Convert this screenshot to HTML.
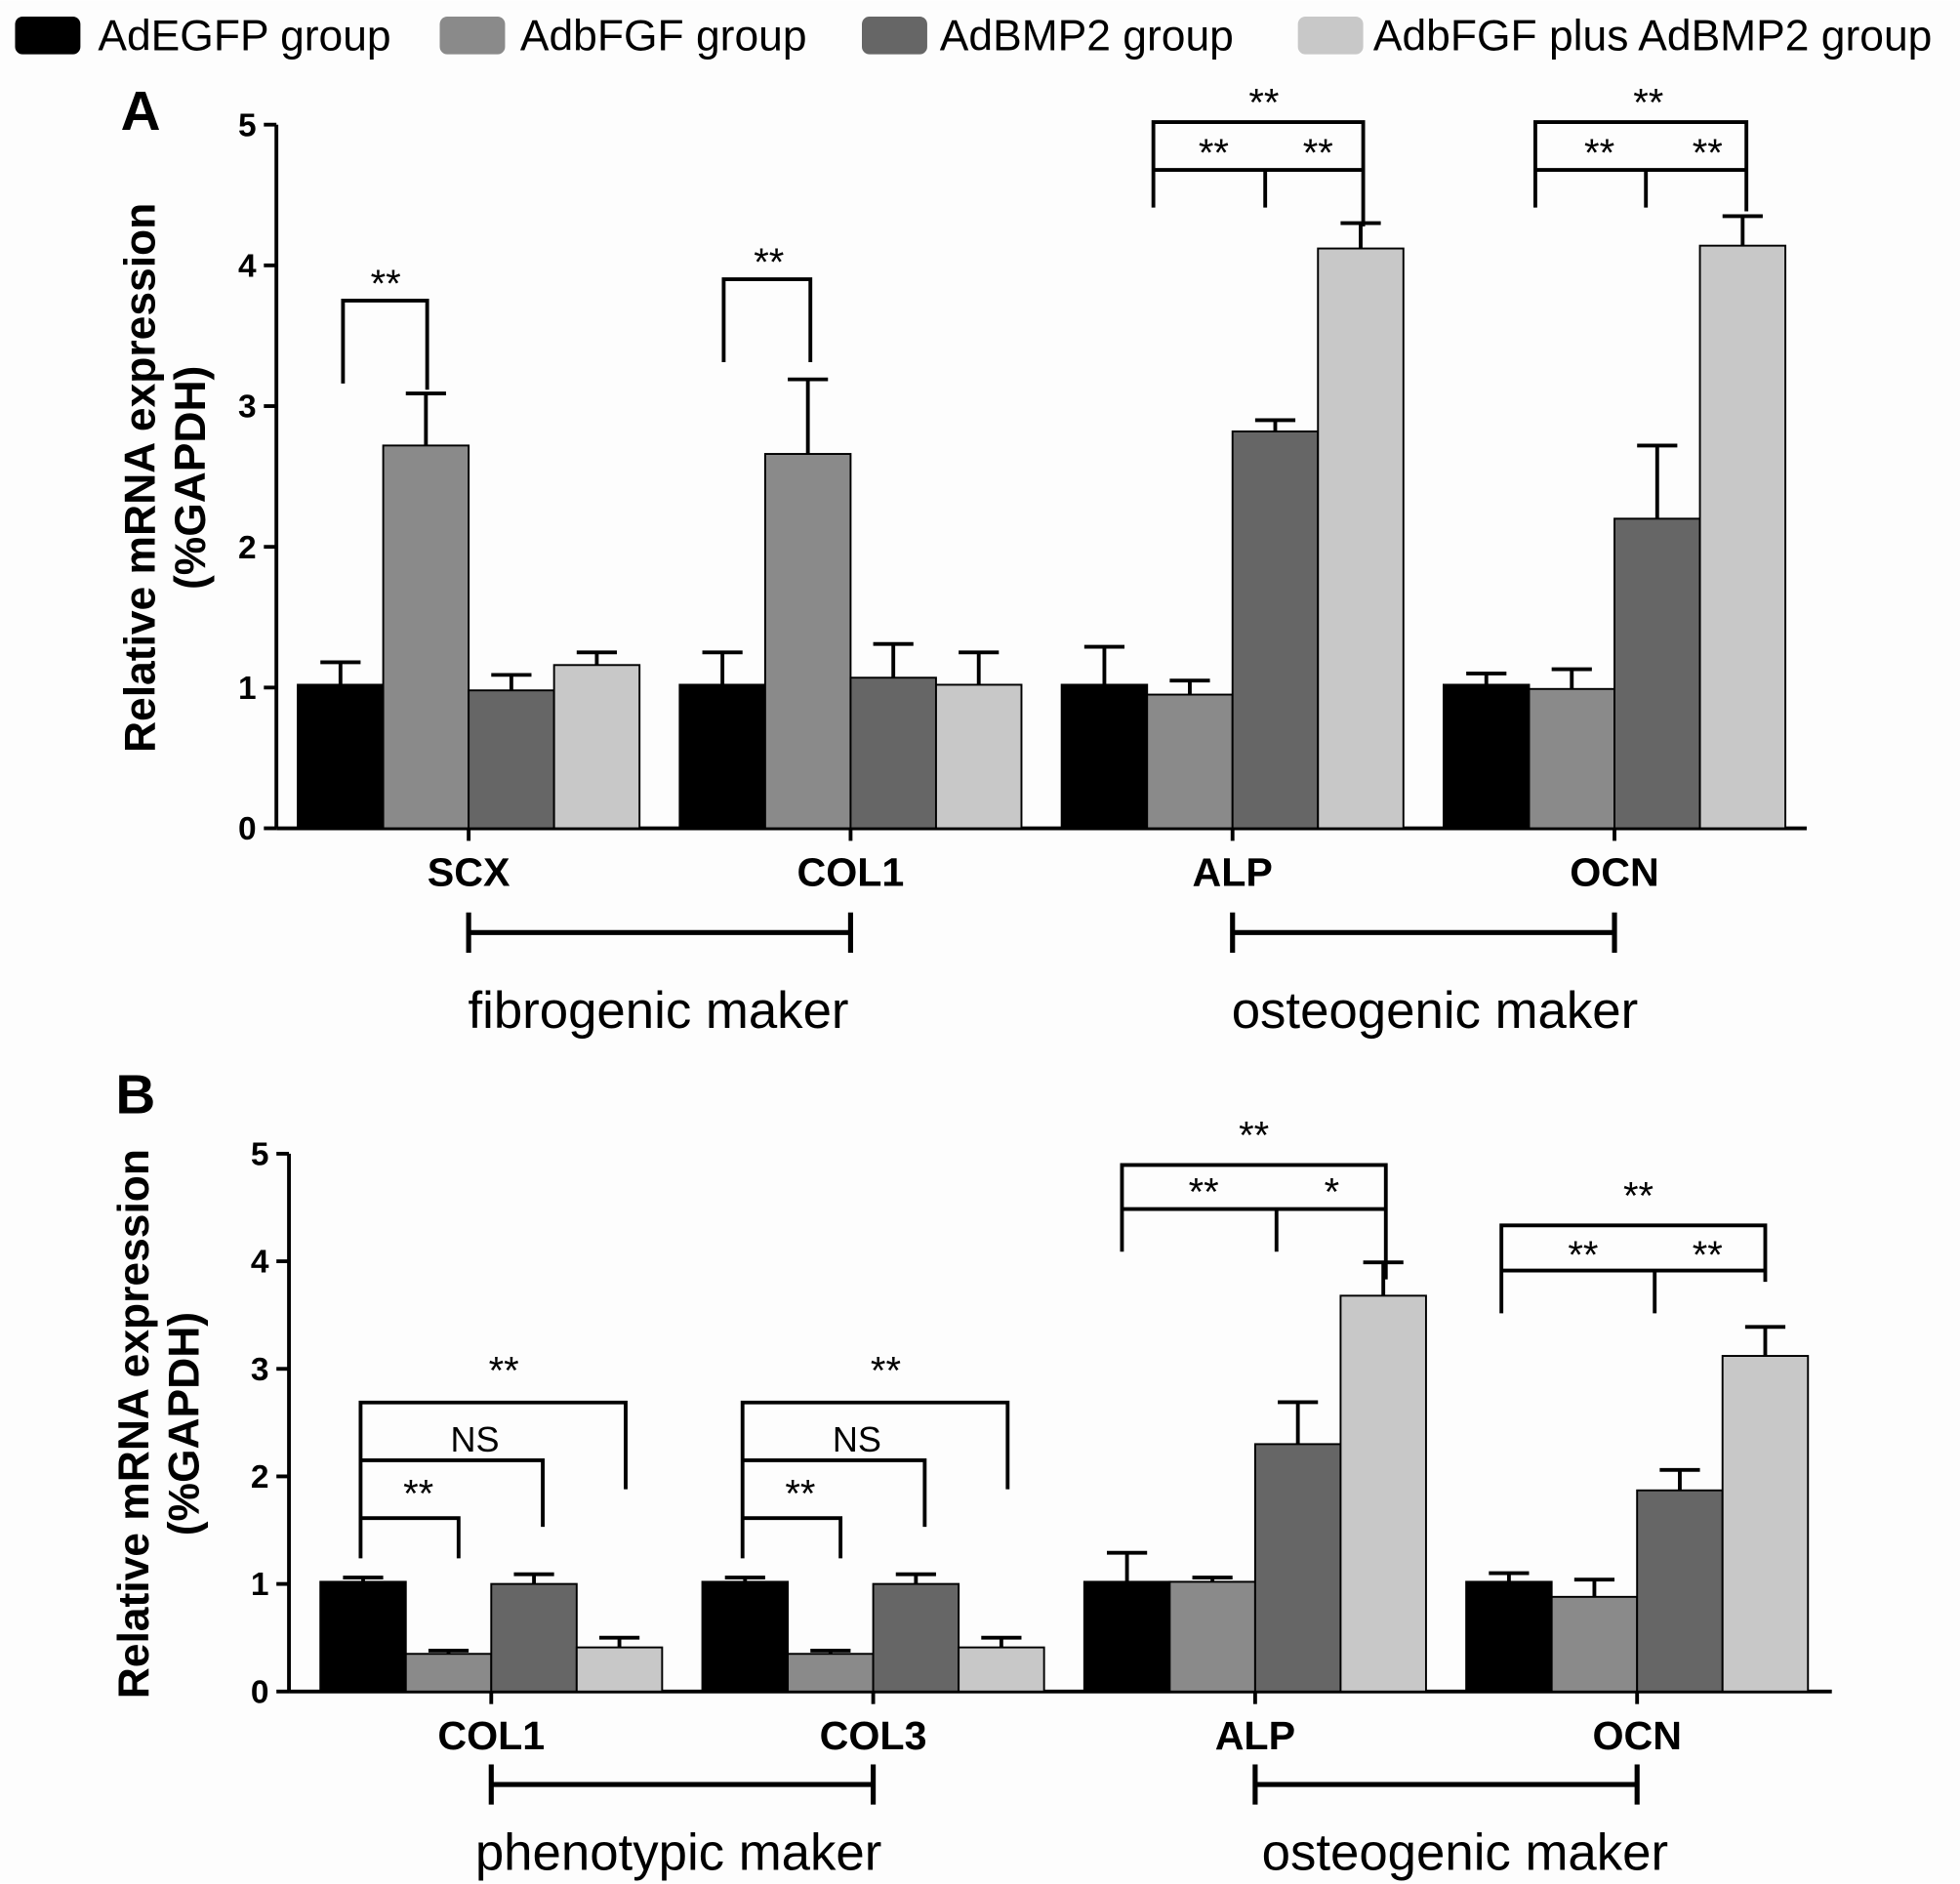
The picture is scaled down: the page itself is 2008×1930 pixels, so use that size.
<!DOCTYPE html>
<html><head><meta charset="utf-8"><style>
html,body{margin:0;padding:0;background:#fff}
svg{display:block;font-family:"Liberation Sans",Arial,sans-serif}
</style></head><body>
<svg id="fig" width="2008" height="1930" viewBox="0 0 1560 1499" xmlns="http://www.w3.org/2000/svg">
<rect x="0" y="0" width="1560" height="1499" fill="#fdfdfd"/>
<g>
 <g><rect x="12" y="13" width="52" height="30" rx="6" fill="#000"/><text x="78" y="40" font-size="34.5">AdEGFP group</text></g>
 <g><rect x="350" y="13" width="52" height="30" rx="6" fill="#8a8a8a"/><text x="414" y="40" font-size="34.5">AdbFGF group</text></g>
 <g><rect x="686" y="13" width="52" height="30" rx="6" fill="#666"/><text x="748" y="40" font-size="34.5">AdBMP2 group</text></g>
 <g><rect x="1033" y="13" width="52" height="30" rx="6" fill="#c8c8c8"/><text x="1093" y="40" font-size="34.5">AdbFGF plus AdBMP2 group</text></g>
</g>
<g id="pA"></g>
<g id="pB"></g>
</svg>
<script>
const colors = ["#000000","#8a8a8a","#666666","#c8c8c8"];
const yTicks = [0,1,2,3,4,5];
const catsA = ["SCX","COL1","ALP","OCN"];
const meansA = [[1.02,2.72,0.98,1.16],[1.02,2.66,1.07,1.02],[1.02,0.95,2.82,4.12],[1.02,0.99,2.20,4.14]];
const errA = [[0.16,0.37,0.11,0.09],[0.23,0.53,0.24,0.23],[0.27,0.10,0.08,0.18],[0.08,0.14,0.52,0.21]];
const catsB = ["COL1","COL3","ALP","OCN"];
const meansB = [[1.02,0.35,1.00,0.41],[1.02,0.35,1.00,0.41],[1.02,1.02,2.30,3.68],[1.02,0.88,1.87,3.12]];
const errB = [[0.04,0.03,0.09,0.09],[0.04,0.03,0.09,0.09],[0.27,0.04,0.39,0.31],[0.08,0.16,0.19,0.27]];
const NS="http://www.w3.org/2000/svg";
function mk(parent,tag,attrs,text){const e=document.createElementNS(NS,tag);for(const k in attrs)e.setAttribute(k,attrs[k]);if(text!==undefined)e.textContent=text;parent.appendChild(e);return e;}
function panel(g,cfg,cats,means,errs){
  const y=v=>cfg.y0-(cfg.y0-cfg.y5)*v/5;
  const barW=68;
  const cx=(i,j)=>cfg.c0+i*cfg.step+(j-2)*barW+barW/2;
  const ax=mk(g,'line',{x1:cfg.ax,x2:cfg.ax,y1:cfg.y5,y2:cfg.y0,stroke:'#000','stroke-width':3});
  
  
  yTicks.forEach(t=>{
    const tl=mk(g,'line',{x1:cfg.ax-10,x2:cfg.ax,y1:y(t),y2:y(t),stroke:'#000','stroke-width':3});
    
    
    const tx=mk(g,'text',{x:cfg.ax-16,y:y(t)+9,'font-size':26,'font-weight':'bold','text-anchor':'end'},String(t));
    
    
  });
  const xa=mk(g,'line',{x1:cfg.ax,x2:cfg.axEnd,y1:cfg.y0,y2:cfg.y0,stroke:'#000','stroke-width':3});
  
  
  cats.forEach((c,i)=>{
    const gc=cfg.c0+i*cfg.step;
    const tk=mk(g,'line',{x1:gc,x2:gc,y1:cfg.y0,y2:cfg.y0+10,stroke:'#000','stroke-width':3});
    
    
    const lb=mk(g,'text',{x:gc,y:cfg.y0+46,'font-size':32,'font-weight':'bold','text-anchor':'middle'},c);
    
    
    means[i].forEach((v,j)=>{
      const x=cx(i,j), top=y(v+errs[i][j]);
      const el=mk(g,'line',{x1:x,x2:x,y1:y(v),y2:top,stroke:'#000','stroke-width':3});
      
      
      const ec=mk(g,'line',{x1:x-16,x2:x+16,y1:top,y2:top,stroke:'#000','stroke-width':3});
      
      
      const b=mk(g,'rect',{x:x-barW/2,y:y(v),width:barW,height:cfg.y0-y(v),fill:colors[j],stroke:'#000','stroke-width':1.5});
      
      
    });
  });
  const yt=mk(g,'text',{transform:`translate(${cfg.tx},${cfg.ty}) rotate(-90)`,'font-size':34.5,'font-weight':'bold','text-anchor':'middle'});
  
  
  mk(yt,'tspan',{x:0,dy:0},'Relative mRNA expression');
  mk(yt,'tspan',{x:0,dy:40},'(%GAPDH)');
  cfg.markers.forEach(m=>{
    const a=cfg.c0+m[0]*cfg.step, b=cfg.c0+m[1]*cfg.step, ly=cfg.y0+cfg.mOff;
    const p=mk(g,'path',{d:`M${a} ${ly-16}V${ly+16}M${a} ${ly}H${b}M${b} ${ly-16}V${ly+16}`,stroke:'#000','stroke-width':4,fill:'none'});
    
    
    const t=mk(g,'text',{x:m[3],y:ly+cfg.tOff,'font-size':41,'text-anchor':'middle'},m[2]);
    
    
  });
  cfg.paths.forEach(d=>{
    const p=mk(g,'path',{d:d,stroke:'#000','stroke-width':3,fill:'none'});
    
    
  });
  cfg.stars.forEach(s=>{
    const t=mk(g,'text',{x:s[0],y:s[1],'font-size':s[2]==='NS'?28:31,'text-anchor':'middle'},s[2]);
    
    
  });
  const L=mk(g,'text',{x:cfg.letter[0],y:cfg.letter[1],'font-size':44,'font-weight':'bold'},cfg.letter[2]);
  
  
}
panel(document.getElementById('pA'),{ax:220,axEnd:1438,y0:659,y5:99,c0:373,step:304,tx:123,ty:380,
  mOff:83,tOff:76,markers:[[0,1,'fibrogenic maker',524],[2,3,'osteogenic maker',1142]],
  paths:['M273 305V239H340V310','M576 288V222H645V288',
   'M918 165V97H1085V180M918 135H1085M1007 135V165',
   'M1222 165V97H1390V168M1222 135H1390M1310 135V165'],
  stars:[[307,236,'**'],[612,219,'**'],[1006,92,'**'],[966,132,'**'],[1049,132,'**'],[1312,92,'**'],[1273,132,'**'],[1359,132,'**']],
  letter:[96,103,'A']},catsA,meansA,errA);
panel(document.getElementById('pB'),{ax:230,axEnd:1458,y0:1346,y5:918,c0:391,step:304,tx:118,ty:1133,
  mOff:74,tOff:68,markers:[[0,1,'phenotypic maker',540],[2,3,'osteogenic maker',1166]],
  paths:['M287 1240V1116H498V1185M287 1162H432V1215M287 1208H365V1240',
   'M591 1240V1116H802V1185M591 1162H736V1215M591 1208H669V1240',
   'M893 996V927H1103V1018M893 962H1103M1016 962V996',
   'M1195 1045V975H1405V1020M1195 1011H1405M1317 1011V1045'],
  stars:[[401,1101,'**'],[378,1155,'NS'],[333,1199,'**'],[705,1101,'**'],[682,1155,'NS'],[637,1199,'**'],[998,914,'**'],[958,959,'**'],[1060,959,'*'],[1304,962,'**'],[1260,1009,'**'],[1359,1009,'**']],
  letter:[92,886,'B']},catsB,meansB,errB);
</script>
</body></html>
